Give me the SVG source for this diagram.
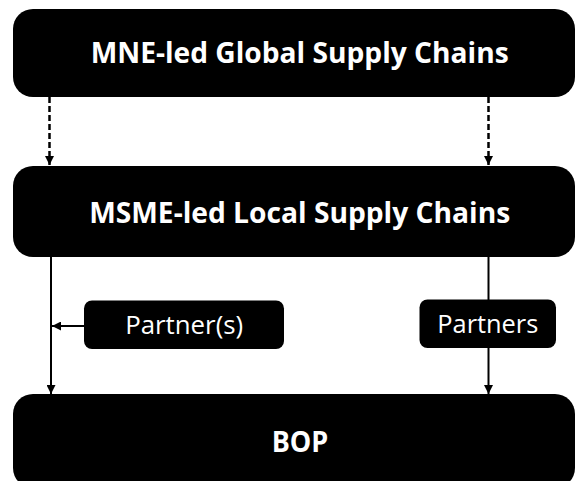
<svg xmlns="http://www.w3.org/2000/svg" width="576" height="481" viewBox="0 0 576 481">
  <style>
    .box { fill: #000; }
    .title { font-family: "Open Sans", "Noto Sans", "Liberation Sans", sans-serif; font-weight: bold; font-size: 28px; fill: #fff; text-anchor: middle; }
    .label { font-family: "Open Sans", "Noto Sans", "Liberation Sans", sans-serif; font-size: 25px; fill: #fff; text-anchor: middle; }
    .dash { stroke: #000; stroke-width: 2.5; stroke-dasharray: 6 3; fill: none; }
    .solid { stroke: #000; stroke-width: 2; fill: none; }
  </style>
  <defs>
    <marker id="arrow" viewBox="0 0 10 10" refX="10" refY="5" markerWidth="9" markerHeight="9" markerUnits="userSpaceOnUse" orient="auto">
      <path d="M0,0 L10,5 L0,10 Z" fill="#000"/>
    </marker>
  </defs>

  <rect width="576" height="481" fill="#fff"/>

  <g id="connectors">
    <!-- MNE chains to MSME chains (dashed) -->
    <line class="dash" x1="49.5" y1="97" x2="49.5" y2="165" marker-end="url(#arrow)"/>
    <line class="dash" x1="488.5" y1="97" x2="488.5" y2="165" marker-end="url(#arrow)"/>
    <!-- MSME chains to BOP -->
    <line class="solid" x1="51" y1="257" x2="51" y2="394" marker-end="url(#arrow)"/>
    <line class="solid" x1="488.5" y1="257" x2="488.5" y2="300"/>
    <line class="solid" x1="488.5" y1="348" x2="488.5" y2="394" marker-end="url(#arrow)"/>
    <!-- Partner(s) feeding the left chain -->
    <line class="solid" x1="84" y1="326" x2="52" y2="326" marker-end="url(#arrow)"/>
  </g>

  <g id="mne-global">
    <rect class="box" x="13" y="9" width="562" height="88" rx="20" ry="20"/>
    <text class="title" x="299.7" y="63.3" textLength="418" lengthAdjust="spacingAndGlyphs">MNE-led Global Supply Chains</text>
  </g>

  <g id="msme-local">
    <rect class="box" x="13" y="166" width="562" height="91" rx="20" ry="20"/>
    <text class="title" x="299.7" y="222.7" textLength="421" lengthAdjust="spacingAndGlyphs">MSME-led Local Supply Chains</text>
  </g>

  <g id="partner-s">
    <rect class="box" x="84" y="300.5" width="200" height="48.5" rx="8" ry="8"/>
    <text class="label" x="184.2" y="334" textLength="118" lengthAdjust="spacingAndGlyphs">Partner(s)</text>
  </g>

  <g id="partners">
    <rect class="box" x="419.5" y="299.5" width="136.5" height="48.5" rx="8" ry="8"/>
    <text class="label" x="487.8" y="333.3" textLength="101" lengthAdjust="spacingAndGlyphs">Partners</text>
  </g>

  <g id="bop">
    <rect class="box" x="13" y="394" width="562" height="94" rx="20" ry="20"/>
    <text class="title" x="300" y="451.7" textLength="56.6" lengthAdjust="spacingAndGlyphs">BOP</text>
  </g>
</svg>
